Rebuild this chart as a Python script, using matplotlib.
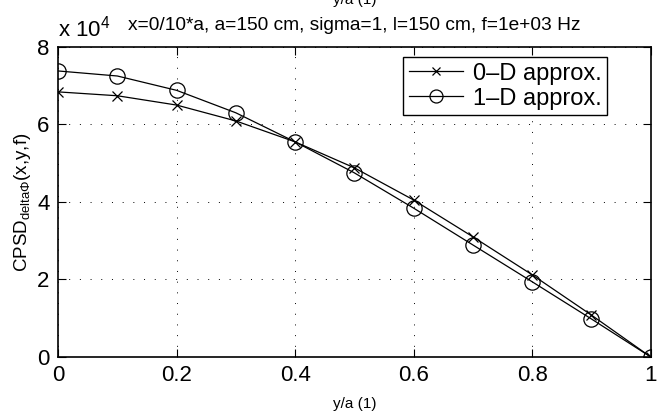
import matplotlib
matplotlib.use("Agg")
import matplotlib.pyplot as plt

plt.rcParams['font.family'] = ['Liberation Sans', 'DejaVu Sans']
plt.rcParams['mathtext.fontset'] = 'custom'
plt.rcParams['mathtext.rm'] = 'Liberation Sans'
plt.rcParams['mathtext.it'] = 'Liberation Sans'

# y/a positions
ya = [0.0, 0.1, 0.2, 0.3, 0.4, 0.5, 0.6, 0.7, 0.8, 0.9, 1.0]
# CPSD values in units of 1e4
cpsd_0d = [6.84, 6.74, 6.50, 6.09, 5.55, 4.88, 4.05, 3.10, 2.12, 1.08, 0.0]
cpsd_1d = [7.38, 7.25, 6.88, 6.30, 5.55, 4.75, 3.84, 2.89, 1.94, 0.98, 0.0]
xticks = [0, 0.2, 0.4, 0.6, 0.8, 1]
yticks = [0, 2, 4, 6, 8]

fig = plt.figure(figsize=(6.6, 4.19), dpi=100)
ax = fig.add_axes([0.088, 0.148, 0.898, 0.74])

ax.plot(ya, cpsd_0d, 'k-x', lw=0.9, markersize=7, mew=0.9, label='0\u2013D approx.')
ax.plot(ya, cpsd_1d, 'k-o', lw=0.9, markersize=11, mew=0.9, mfc='none', label='1\u2013D approx.')

ax.set_xlim(0, 1)
ax.set_ylim(0, 8)
ax.set_xticks(xticks)
ax.set_xticklabels(['0', '0.2', '0.4', '0.6', '0.8', '1'])
ax.set_yticks(yticks)
ax.tick_params(direction='in', top=True, right=True, labelsize=16, length=6, pad=6)
ax.grid(True, linestyle=(0, (1, 10)), color='k', lw=0.7)
for s in ax.spines.values():
    s.set_linewidth(1.2)

ax.set_xlabel('y/a (1)', fontsize=11, labelpad=8)
ax.set_ylabel(r'CPSD$_{\mathrm{delta}\Phi}$(x,y,f)', fontsize=13.5, labelpad=3)
ax.set_title('x=0/10*a, a=150 cm, sigma=1, l=150 cm, f=1e+03 Hz', fontsize=13.8, pad=12)
fig.text(0.538, 1.0, 'y/a (1)', fontsize=11, ha='center', va='center')
fig.text(0.088, 0.913, r'x 10$^{4}$', fontsize=16, ha='left', va='baseline')

leg = ax.legend(loc='upper right', bbox_to_anchor=(0.927, 0.968), fontsize=17,
                fancybox=False, edgecolor='k', framealpha=1, handlelength=2.3,
                borderpad=0.25, labelspacing=0.12, handletextpad=0.4, borderaxespad=0,
                markerscale=0.85)
leg.get_frame().set_linewidth(1.0)

fig.savefig('out.png', dpi=100)
